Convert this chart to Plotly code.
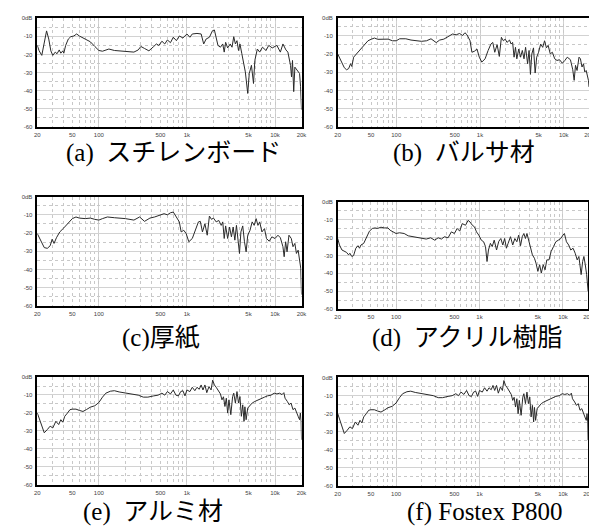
import plotly.graph_objects as go

# ---------------- data (frequency in Hz, level in dB) ----------------
freq_a = [20, 21, 22.5, 24, 25.5, 27, 28.5, 30, 32, 33.5, 35.5, 37, 39, 40, 42, 45, 48, 52, 56, 60,
          70, 80, 90, 100, 110, 130, 150, 200, 250, 280, 300, 330, 370, 420, 450, 480, 520, 560, 600, 650,
          700, 760, 820, 900, 1000, 1080, 1150, 1300, 1450, 1550, 1650, 1800, 1950, 2050, 2150, 2250, 2400, 2550, 2650, 2750,
          2900, 3100, 3250, 3400, 3550, 3700, 3850, 4000, 4200, 4400, 4600, 4900, 5100, 5400, 5700, 5900, 6300, 6700, 7200, 7900,
          8500, 9300, 10500, 11500, 12300, 13300, 14000, 15000, 15400, 15800, 16300, 16800, 17800, 19000, 19500, 20000]
db_a = [-15, -18, -20.5, -14, -7, -11.5, -18, -20.5, -18.7, -19.6, -17.5, -19.3, -18, -19.3, -15, -11.5, -10.2, -9.8, -8.7, -9.8,
        -11.3, -13, -15.6, -17.8, -18.2, -17, -17.8, -18.4, -18.7, -17.5, -15.6, -16.7, -18, -15.6, -14.2, -15, -12.7, -14.2, -12, -13.5,
        -10.5, -12.4, -9.8, -10.9, -8.7, -10.5, -8.7, -8.4, -8.7, -14.2, -11.5, -10.5, -6.9, -6.5, -11.5, -15, -16, -14.2, -18.7, -13.3,
        -16.4, -14.2, -16, -10.2, -14.2, -12.4, -17.8, -14.2, -19.6, -25, -29.6, -41.5, -30.5, -26, -36, -23.3, -17, -18.7, -16, -17.8,
        -15, -16.4, -15, -18.7, -14.2, -17.5, -18.7, -26, -32.4, -23.3, -40.5, -27, -28.7, -30.5, -37.8, -50.5]

freq_b = [20, 22, 24, 25.5, 27, 28.5, 29.5, 31, 34, 38, 42, 46, 50, 55, 60, 70, 80, 90, 100, 110,
          130, 150, 200, 230, 260, 300, 330, 370, 420, 470, 520, 570, 620, 660, 700, 760, 800, 860, 920, 980,
          1050, 1150, 1250, 1350, 1420, 1500, 1600, 1700, 1800, 1900, 2000, 2100, 2250, 2350, 2450, 2550, 2650, 2750, 2900, 3050,
          3200, 3350, 3500, 3700, 3850, 4000, 4150, 4350, 4550, 4750, 5000, 5300, 5600, 5900, 6200, 6500, 6900, 7300, 7800, 8300,
          8900, 9600, 10300, 11000, 12000, 12800, 13300, 13800, 14400, 15200, 15800, 16500, 17200, 17800, 18500, 19200, 19700, 20000]
db_b = [-19.9, -24.4, -27.5, -28.6, -28, -25.3, -26.8, -21.7, -19.5, -17.2, -14.5, -12.7, -11.9, -11.2, -11.9, -11.9, -11.8, -12.7, -12.7, -11.6,
        -11.6, -12.3, -13, -12.7, -11.6, -13.7, -12.3, -11.8, -10.1, -9, -9.4, -8.7, -9.8, -8.3, -9.4, -12.7, -19, -18.4, -17.2, -21.7,
        -24.4, -22.6, -18, -14.5, -13.6, -19, -14.8, -21.3, -10.8, -12.7, -11.8, -13.6, -12.3, -14.5, -13.6, -21.7, -16.3, -22.6, -17.2, -21.7,
        -18, -22.6, -16.3, -25.3, -18, -31.1, -20, -16.6, -30.4, -21.7, -19, -14.5, -16.3, -12.7, -16.6, -15.2, -19.9, -19, -22.6, -23.5,
        -23.1, -25, -23.5, -21.7, -23.1, -28.6, -34.4, -26.2, -29, -21.7, -22.6, -27.1, -25.3, -29.8, -29, -32.5, -34.4, -38]

freq_c = [20, 22, 24, 26, 28, 29.5, 31, 33, 36, 40, 45, 50, 55, 60, 70, 80, 90, 100, 110, 125,
          150, 200, 250, 290, 330, 380, 430, 480, 550, 600, 650, 700, 760, 820, 860, 920, 980, 1050, 1150, 1250,
          1350, 1420, 1500, 1600, 1700, 1800, 1900, 2000, 2150, 2300, 2450, 2550, 2650, 2750, 2900, 3050, 3200, 3350, 3500, 3650,
          3800, 3950, 4100, 4300, 4500, 4700, 4900, 5200, 5500, 5800, 6100, 6400, 6700, 7100, 7600, 8000, 8600, 9200, 10000, 10800,
          11500, 12300, 12700, 13200, 13700, 14400, 15300, 16000, 16800, 17500, 18300, 19000, 19600, 20000]
db_c = [-20.3, -24.8, -28, -28.4, -27, -23.4, -25.7, -22.6, -19.4, -17.2, -14.3, -12.1, -11.2, -11.8, -12.1, -11.8, -12.5, -12.9, -12.1, -11.2,
        -11.6, -12.1, -12.9, -11.2, -13.6, -11.8, -11.2, -10.3, -9.4, -10, -8.9, -8.5, -11.2, -13.9, -19.4, -18.5, -20.3, -24.8, -23, -18.5,
        -13.9, -13.6, -19.4, -14.9, -21.2, -10.7, -12.5, -11.8, -13.9, -13.1, -15.8, -13.9, -23, -16.1, -23, -16.7, -22.1, -16.7, -23.9, -15.8,
        -24.8, -31.2, -19.4, -16.1, -24.8, -30.3, -21.2, -18.5, -13.9, -15.8, -12.1, -15.8, -13.9, -19.4, -17.6, -23, -24.5, -22.1, -23, -21.2,
        -22.6, -27.5, -33, -24.8, -30.3, -21.2, -23, -27.5, -25.7, -31.2, -29.4, -33.9, -39.3, -53.8]

freq_d = [20, 21, 22.5, 24, 25.5, 27, 28, 29.5, 31, 33, 35, 36.5, 38, 41, 45, 48, 52, 56, 60, 66,
          72, 80, 85, 90, 100, 110, 125, 140, 160, 180, 200, 230, 260, 290, 320, 350, 380, 420, 460, 500,
          540, 580, 620, 680, 730, 770, 820, 870, 920, 980, 1050, 1120, 1180, 1230, 1280, 1350, 1420, 1500, 1600, 1700,
          1800, 1900, 2000, 2100, 2200, 2350, 2500, 2650, 2800, 2950, 3100, 3250, 3400, 3550, 3700, 3900, 4050, 4300, 4550, 4750,
          5000, 5250, 5500, 5800, 6100, 6400, 6800, 7200, 7700, 8200, 8800, 9400, 10000, 10400, 11000, 11700, 12400, 13200, 14000, 14800,
          15500, 16000, 16500, 17200, 17800, 18500, 19200, 20000]
db_d = [-20.6, -24.2, -27, -27.5, -28.3, -29.7, -28.8, -30.6, -30.1, -26, -24.6, -26, -24.2, -23.3, -18.7, -16.5, -15, -14.7, -15, -14.3,
        -14.7, -14.7, -16, -16.5, -17.8, -17.4, -17.8, -19.1, -19.6, -20.2, -20.6, -20.9, -20.2, -21.5, -20.2, -20.9, -19.6, -20.2, -16.9, -17.8,
        -15, -16.5, -12.3, -13.2, -10.5, -11.4, -13.2, -14.1, -16.9, -18.7, -21.5, -22.4, -25.1, -33.4, -27, -23.3, -25.1, -21.5, -27, -22.2,
        -20.6, -24.2, -20.6, -26, -23.3, -19.6, -24.2, -20.6, -22.4, -18.7, -24.6, -19.6, -17.8, -20.6, -17.8, -22.4, -26, -29.7, -31.6, -34.3,
        -38.9, -35.2, -39.8, -35.2, -38, -32.5, -32.5, -27.9, -25.1, -22.4, -21.5, -20.6, -18.7, -17.8, -22.4, -24.2, -27, -26, -28.8, -32.5,
        -30.6, -38, -40.7, -33.4, -30.6, -35.2, -40.7, -49.9]

freq_e = [20, 22, 24, 26, 28, 30, 32.5, 35, 37, 39, 41, 44, 47, 50, 55, 60, 66, 72, 80, 90,
          100, 110, 120, 135, 150, 170, 200, 240, 280, 320, 360, 420, 470, 520, 560, 600, 650, 700, 750, 800,
          850, 900, 950, 1000, 1080, 1150, 1230, 1300, 1380, 1450, 1520, 1600, 1680, 1780, 1880, 1960, 2050, 2150, 2250, 2400,
          2500, 2600, 2700, 2800, 2900, 3000, 3150, 3300, 3400, 3550, 3700, 3850, 4000, 4150, 4300, 4450, 4550, 4700, 4900, 5200,
          5500, 5900, 6400, 7000, 7600, 8200, 9000, 9800, 10500, 11300, 12000, 12600, 13000, 13800, 14500, 15200, 16000, 16800, 17500, 18300,
          19000, 19400, 19800, 20000]
db_e = [-20, -25.6, -31.1, -29.3, -27.4, -28.4, -24.7, -26.5, -23.8, -25.2, -21.9, -20.1, -18.2, -17.9, -17.9, -18.6, -19.2, -18.2, -16.8, -16,
        -14.2, -11.2, -9, -7.9, -7.6, -8.3, -9, -9.8, -10.1, -11.2, -11.2, -10.5, -10.1, -9, -10.1, -8.1, -9.4, -7.2, -10.1, -10.5,
        -8.1, -7.6, -10.5, -7.2, -8.1, -5.7, -7.6, -5.7, -6.8, -4.4, -7.2, -4.4, -8.7, -5.3, -7.2, -1.7, -4.4, -5.7, -7.2, -9.4,
        -12.7, -11, -16.4, -11.8, -20.1, -12.7, -21, -10.9, -9, -14.5, -8.1, -14.5, -10.9, -21.9, -15.5, -24.7, -16.6, -23.8, -17.3, -15.5,
        -14.5, -13.6, -12.7, -11.8, -11.2, -10.5, -10.1, -9, -9.4, -9, -9.8, -8.7, -11.8, -13.6, -15.5, -14.5, -18.2, -17.3, -20.1, -21.9,
        -23.8, -20.1, -24.7, -34.8]

freq_f = list(freq_e)
db_f = [-20, -25.6, -31.1, -29.3, -27.4, -28.4, -24.7, -26.5, -23.8, -25.2, -21.9, -20.1, -18.2, -17.9, -17.9, -18.6, -19.2, -18.2, -16.8, -16,
        -14.2, -11.2, -9, -7.9, -7.6, -8.3, -9, -9.8, -10.1, -11.2, -11.2, -10.5, -10.1, -9, -10.1, -8.1, -9.4, -7.2, -10.1, -10.5,
        -8.1, -7.6, -10.5, -7.2, -8.1, -5.7, -7.6, -5.7, -6.8, -4.4, -7.2, -4.4, -8.7, -5.3, -7.2, -1.7, -4.4, -5.7, -7.2, -9.4,
        -12.7, -11, -16.4, -11.8, -20.1, -12.7, -21, -10.9, -9, -14.5, -8.1, -14.5, -10.9, -21.9, -15.5, -24.7, -16.6, -23.8, -17.3, -15.5,
        -14.5, -13.6, -12.7, -11.8, -11.2, -10.5, -10.1, -9, -9.4, -9, -9.8, -8.7, -11.8, -13.6, -15.5, -14.5, -18.2, -17.3, -20.1, -21.9,
        -23.8, -20.1, -24.7, -34.8]

captions = ["(a)  スチレンボード", "(b)  バルサ材", "(c)厚紙", "(d)  アクリル樹脂", "(e)  アルミ材", "(f) Fostex P800"]

x_label_vals = [20, 50, 100, 500, 1000, 5000, 10000, 20000]
x_label_text = ["20", "50", "100", "500", "1k", "5k", "10k", "20k"]
x_grid_vals = [20, 30, 40, 50, 60, 70, 80, 90, 100, 200, 300, 400, 500, 600, 700, 800, 900,
               1000, 2000, 3000, 4000, 5000, 6000, 7000, 8000, 9000, 10000, 20000]
x_decade_vals = [100, 1000, 10000]
y_tick_vals = [0, -10, -20, -30, -40, -50, -60]
y_tick_text = ["0dB", "-10", "-20", "-30", "-40", "-50", "-60"]

series = [(freq_a, db_a), (freq_b, db_b), (freq_c, db_c), (freq_d, db_d), (freq_e, db_e), (freq_f, db_f)]

# ---------------- layout geometry (paper fractions) ----------------
x_domains = [[0.0447, 0.4941], [0.5556, 0.9830], [0.0447, 0.4941], [0.5556, 0.9815], [0.0447, 0.4941], [0.5556, 0.9815]]
y_domains = [[0.7778, 0.9862], [0.7778, 0.9873], [0.4350, 0.6445], [0.4286, 0.6350], [0.0928, 0.2987], [0.0909, 0.2979]]
cap_x = [0.277, 0.771, 0.255, 0.776, 0.241, 0.806]
cap_y = [0.728, 0.728, 0.373, 0.373, 0.040, 0.040]

fig = go.Figure()
x_text_map = dict(zip(x_label_vals, x_label_text))
x_grid_text = [x_text_map.get(v, "") for v in x_grid_vals]

tickfont = dict(family="Liberation Sans", size=6, color="#444")
layout = dict(width=597, height=528, margin=dict(l=0, r=0, t=0, b=0),
              plot_bgcolor="white", paper_bgcolor="white", showlegend=False)

for i, (fx, fy) in enumerate(series):
    n = "" if i == 0 else str(i + 1)
    fig.add_trace(go.Scatter(x=fx, y=fy, mode="lines", xaxis="x" + n, yaxis="y" + n,
                             line=dict(color="#2a2a2a", width=1), hoverinfo="skip"))
    layout["xaxis" + n] = dict(
        type="log", range=[1.30103, 4.30103], domain=x_domains[i], anchor="y" + n,
        tickmode="array", tickvals=x_grid_vals, ticktext=x_grid_text, tickfont=tickfont,
        ticklabeloverflow="allow",
        showgrid=True, gridcolor="#c8c8c8", griddash="dot", gridwidth=1,
        minor=dict(tickmode="array", tickvals=x_decade_vals, showgrid=True,
                   gridcolor="#d2d2d2", griddash="solid", gridwidth=1, ticks=""),
        showline=True, linecolor="black", linewidth=1.5, mirror=True,
        ticks="", ticklabelstandoff=1, zeroline=False, fixedrange=True)
    layout["yaxis" + n] = dict(
        range=[-60, 0], domain=y_domains[i], anchor="x" + n,
        tickmode="array", tickvals=y_tick_vals, ticktext=y_tick_text, tickfont=tickfont,
        showgrid=True, gridcolor="#d2d2d2", gridwidth=1,
        minor=dict(dtick=5, showgrid=True, gridcolor="#c8c8c8", griddash="dot", ticks=""),
        showline=True, linecolor="black", linewidth=1.5, mirror=True,
        ticks="", ticklabelstandoff=2, zeroline=False, fixedrange=True)

annotations = []
for i, cap in enumerate(captions):
    annotations.append(dict(text=cap, x=cap_x[i], y=cap_y[i], xref="paper", yref="paper",
                            showarrow=False, xanchor="center", yanchor="middle",
                            font=dict(family="Liberation Serif, Noto Sans CJK JP", size=25, color="black")))
layout["annotations"] = annotations

fig.update_layout(**layout)
fig.write_html("out.html")
